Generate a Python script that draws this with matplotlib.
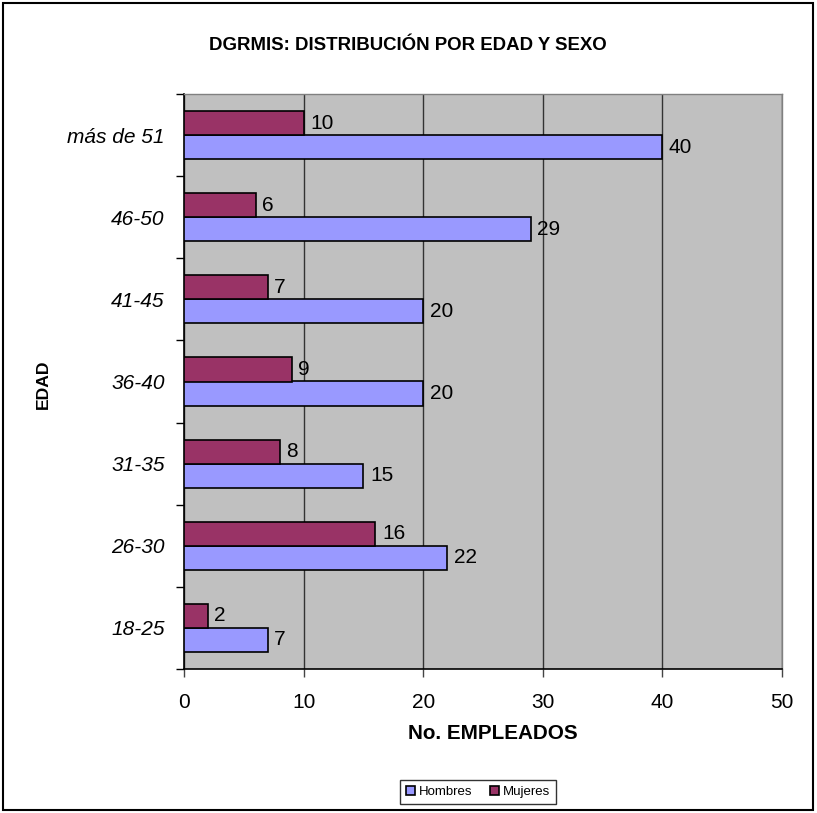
import matplotlib
matplotlib.use("Agg")
import matplotlib.pyplot as plt
from matplotlib.patches import Rectangle
import numpy as np

plt.rcParams['font.family'] = ['Liberation Sans', 'DejaVu Sans']

categories = ['18-25', '26-30', '31-35', '36-40', '41-45', '46-50', 'más de 51']
hombres = [7, 22, 15, 20, 20, 29, 40]
mujeres = [2, 16, 8, 9, 7, 6, 10]
xticks = [0, 10, 20, 30, 40, 50]

fig = plt.figure(figsize=(8.17, 8.13), dpi=100)
ax = fig.add_axes([184/817, 1-669/813, (782-184)/817, (669-94)/813])
ax.set_facecolor('#C0C0C0')

y = np.arange(len(categories))
h = 0.293
bh = ax.barh(y - h/2, hombres, height=h, color='#9999FF', edgecolor='black', linewidth=1.2, label='Hombres', zorder=3)
bm = ax.barh(y + h/2, mujeres, height=h, color='#993366', edgecolor='black', linewidth=1.2, label='Mujeres', zorder=3)

for yi, v in zip(y - h/2, hombres):
    ax.text(v + 0.55, yi, str(v), va='center', ha='left', fontsize=15, zorder=4)
for yi, v in zip(y + h/2, mujeres):
    ax.text(v + 0.55, yi, str(v), va='center', ha='left', fontsize=15, zorder=4)

ax.set_xlim(0, 50)
ax.set_ylim(-0.5, len(categories) - 0.5)
ax.set_xticks(xticks)
ax.set_xticklabels([str(t) for t in xticks], fontsize=15)
ax.xaxis.grid(True, color='#333333', linewidth=1.0, zorder=1)
ax.set_axisbelow(True)

ax.set_yticks(y)
ax.set_yticklabels(categories, fontsize=15, style='italic')
ax.tick_params(axis='y', which='major', length=0, pad=14)
ax.set_yticks(np.arange(-0.5, len(categories), 1.0), minor=True)
ax.tick_params(axis='y', which='minor', length=6, width=1, color='black', direction='out')
ax.tick_params(axis='x', length=6, width=1, color='#444444', direction='out', pad=11)

for s in ['top', 'right']:
    ax.spines[s].set_color('#808080')
    ax.spines[s].set_linewidth(1)
ax.spines['left'].set_color('black')
ax.spines['bottom'].set_color('black')
ax.spines['left'].set_linewidth(1.2)
ax.spines['bottom'].set_linewidth(1.2)

fig.text(408/817, 1-45/813, 'DGRMIS: DISTRIBUCIÓN POR EDAD Y SEXO', ha='center', va='center',
         fontsize=13.4, fontweight='bold')
fig.text(493/817, 1-733/813, 'No. EMPLEADOS', ha='center', va='center', fontsize=14.9, fontweight='bold')
fig.text(43/817, 1-384/813, 'EDAD', rotation=90, ha='center', va='center', fontsize=12.6, fontweight='bold')

leg = fig.legend(handles=[bh, bm], labels=['Hombres', 'Mujeres'], loc='center',
                 bbox_to_anchor=(478/817, 1-792/813), ncol=2, fontsize=9.5,
                 frameon=True, fancybox=False, edgecolor='black', handlelength=0.7,
                 handleheight=0.7, handletextpad=0.3, columnspacing=1.3, borderpad=0.45)
leg.get_frame().set_linewidth(1)

fig.patches.append(Rectangle((3/817, 3/813), 810/817, 807/813, transform=fig.transFigure,
                             fill=False, edgecolor='black', linewidth=1.5))

fig.savefig('out.png', dpi=100, facecolor='white')
